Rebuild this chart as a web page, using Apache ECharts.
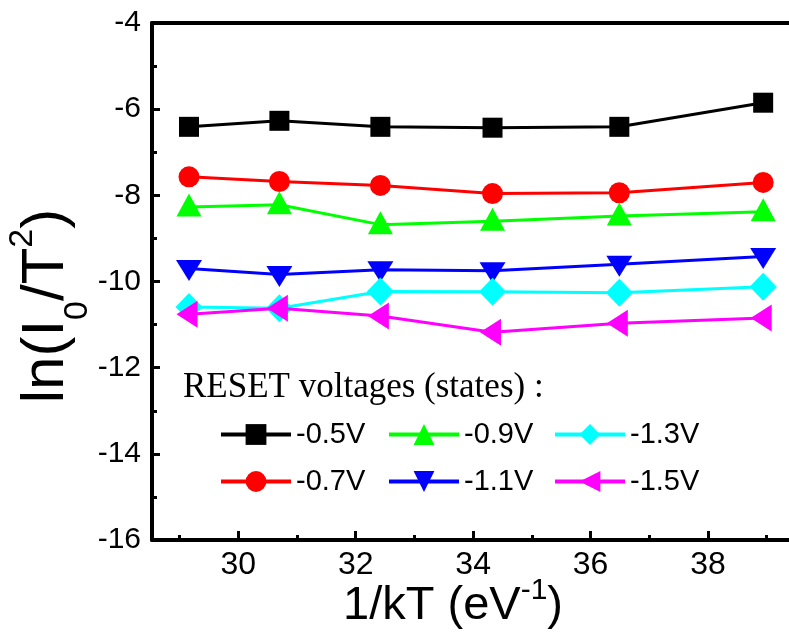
<!DOCTYPE html>
<html>
<head>
<meta charset="utf-8">
<script src="https://cdn.jsdelivr.net/npm/echarts@6/dist/echarts.min.js"></script>
<style>
html,body{margin:0;padding:0;background:#fff;}
#chart{width:789px;height:639px;}
</style>
</head>
<body>
<div id="chart"></div>
<script>
// ---- data ----
var X_VALUES = [29.16, 30.70, 32.42, 34.33, 36.49, 38.94];
var SERIES_NAMES = ['-0.5V', '-0.7V', '-0.9V', '-1.1V', '-1.3V', '-1.5V'];
var Y_M05 = [-6.41, -6.27, -6.41, -6.43, -6.41, -5.85];
var Y_M07 = [-7.57, -7.68, -7.77, -7.96, -7.94, -7.70];
var Y_M09 = [-8.27, -8.22, -8.68, -8.60, -8.48, -8.38];
var Y_M11 = [-9.70, -9.84, -9.73, -9.75, -9.60, -9.42];
var Y_M13 = [-10.59, -10.62, -10.23, -10.24, -10.26, -10.12];
var Y_M15 = [-10.76, -10.62, -10.80, -11.18, -10.97, -10.85];
var X_TICKS = [30, 32, 34, 36, 38];
var X_MINOR_TICKS = [29, 31, 33, 35, 37, 39];
var X_MIN = 28.53, X_MAX = 39.38;
var Y_MIN = -16, Y_MAX = -4, Y_INTERVAL = 2;

function pairs(ys) { return X_VALUES.map(function (x, i) { return [x, ys[i]]; }); }

var SANS = 'Liberation Sans, Arial, sans-serif';
var SERIF = 'Liberation Serif, Times New Roman, serif';

var styles = [
  { color: '#000000', symbol: 'rect', size: 20, rotate: 0, offset: [0, 0] },
  { color: '#ff0000', symbol: 'circle', size: 21, rotate: 0, offset: [0, 0] },
  { color: '#00ff00', symbol: 'triangle', size: [25, 23], rotate: 0, offset: [0, -2] },
  { color: '#0000ff', symbol: 'triangle', size: [26, 21], rotate: 180, offset: [0, 2] },
  { color: '#00ffff', symbol: 'diamond', size: [27, 28], rotate: 0, offset: [0, 0] },
  { color: '#ff00ff', symbol: 'triangle', size: [27, 21], rotate: 90, offset: [-2, 0] }
];
var allY = [Y_M05, Y_M07, Y_M09, Y_M11, Y_M13, Y_M15];

var series = allY.map(function (ys, i) {
  var s = styles[i];
  return {
    name: SERIES_NAMES[i],
    type: 'line',
    data: pairs(ys),
    symbol: s.symbol,
    symbolSize: s.size,
    symbolRotate: s.rotate,
    symbolOffset: s.offset,
    showAllSymbol: true,
    lineStyle: { color: s.color, width: 3 },
    itemStyle: { color: s.color, borderWidth: 0 },
    xAxisIndex: 0,
    yAxisIndex: 0,
    z: 2 + i
  };
});

function legendCol(names, left) {
  return {
    data: names,
    orient: 'vertical',
    left: left,
    top: 420,
    itemWidth: 70,
    itemHeight: 26,
    itemGap: 18,
    padding: 0,
    lineStyle: { width: 4 },
    textStyle: { fontFamily: SANS, fontSize: 29, color: '#000', lineHeight: 26 },
    selectedMode: false
  };
}

var chart = echarts.init(document.getElementById('chart'), null, { renderer: 'canvas' });
chart.setOption({
  animation: false,
  backgroundColor: '#fff',
  grid: { left: 152, right: 0, top: 23, bottom: 99, containLabel: false },
  legend: [
    legendCol([SERIES_NAMES[0], SERIES_NAMES[1]], 219),
    legendCol([SERIES_NAMES[2], SERIES_NAMES[3]], 387),
    legendCol([SERIES_NAMES[4], SERIES_NAMES[5]], 553)
  ],
  xAxis: [
    {
      type: 'value', min: X_MIN, max: X_MAX, position: 'bottom',
      axisLine: { onZero: false, lineStyle: { color: '#000', width: 4 } },
      axisTick: { inside: true, length: 9, customValues: X_TICKS, lineStyle: { color: '#000', width: 3 } },
      axisLabel: { customValues: X_TICKS, fontFamily: SANS, fontSize: 32, color: '#000', margin: 9 },
      splitLine: { show: false }
    },
    {
      type: 'value', min: X_MIN, max: X_MAX, position: 'top',
      axisLine: { onZero: false, lineStyle: { color: '#000', width: 4 } },
      axisTick: { show: false }, axisLabel: { show: false }, splitLine: { show: false }
    },
    {
      type: 'value', min: X_MIN, max: X_MAX, position: 'bottom',
      axisLine: { show: false, onZero: false },
      axisTick: { inside: true, length: 5, customValues: X_MINOR_TICKS, lineStyle: { color: '#000', width: 3 } },
      axisLabel: { show: false }, splitLine: { show: false }
    }
  ],
  yAxis: [
    {
      type: 'value', min: Y_MIN, max: Y_MAX, interval: Y_INTERVAL,
      axisLine: { show: true, onZero: false, lineStyle: { color: '#000', width: 4 } },
      axisTick: { inside: true, length: 8, lineStyle: { color: '#000', width: 3 } },
      minorTick: { show: true, splitNumber: 2, length: 5, lineStyle: { color: '#000', width: 3 } },
      axisLabel: { fontFamily: SANS, fontSize: 30, color: '#000', margin: 11 },
      splitLine: { show: false }
    }
  ],
  graphic: [
    {
      type: 'text', x: 46, y: 306, rotation: Math.PI / 2,
      style: {
        text: 'ln(I{sub|0}/T{sup|2})',
        fontFamily: SANS, fontSize: 60, lineHeight: 80, fill: '#000',
        align: 'center', verticalAlign: 'middle',
        rich: {
          sub: { fontFamily: SANS, fontSize: 34, lineHeight: 34, verticalAlign: 'top', padding: [55, 0, 0, 0], fill: '#000' },
          sup: { fontFamily: SANS, fontSize: 34, lineHeight: 34, verticalAlign: 'top', fill: '#000' }
        }
      }
    },
    {
      type: 'text', x: 453, y: 606,
      style: {
        text: '1/kT (eV{sup|-1})',
        fontFamily: SANS, fontSize: 47, lineHeight: 60, fill: '#000',
        align: 'center', verticalAlign: 'middle',
        rich: {
          sup: { fontFamily: SANS, fontSize: 30, lineHeight: 30, verticalAlign: 'top', fill: '#000' }
        }
      }
    },
    {
      type: 'text', x: 183, y: 388,
      style: {
        text: 'RESET voltages (states) :',
        fontFamily: SERIF, fontSize: 35, fill: '#000',
        align: 'left', verticalAlign: 'middle'
      }
    }
  ],
  series: series
});
</script>
</body>
</html>
